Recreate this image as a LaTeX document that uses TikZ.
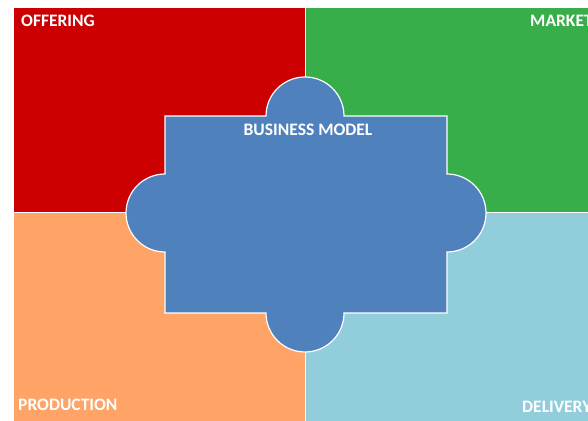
\documentclass[tikz,border=0pt]{standalone}
\usepackage{fontspec}
\setmainfont{Carlito}
\definecolor{offred}{HTML}{CC0000}
\definecolor{mktgreen}{HTML}{37AE4A}
\definecolor{prodorange}{HTML}{FFA366}
\definecolor{delblue}{HTML}{92CDDC}
\definecolor{bmblue}{HTML}{4F81BD}
\tikzset{
  quad/.style={draw=white, line width=0.8pt},
  lbl/.style={text=white, font=\bfseries\fontsize{17.5}{20}\selectfont, inner sep=0pt},
  puzzle/.style={fill=bmblue, draw=white, line width=1.2pt}
}
\begin{document}
\begin{tikzpicture}[x=1pt,y=1pt]
\useasboundingbox (0,0) rectangle (588,420);
\begin{scope}
\clip (0,0) rectangle (588,420);
\fill[white] (0,0) rectangle (588,420);
\path[quad, fill=offred] (13,208) rectangle (305,413);
\path[quad, fill=mktgreen] (305,208) rectangle (600,413);
\path[quad, fill=prodorange] (13,-5) rectangle (305,208);
\path[quad, fill=delblue] (305,-5) rectangle (600,208);
\path[puzzle] (165,304) -- (266,304) arc[start angle=180,end angle=0,radius=39]
  -- (447,304) -- (447,246) arc[start angle=90,end angle=-90,radius=39]
  -- (447,107) -- (344,107) arc[start angle=0,end angle=-180,radius=39]
  -- (165,107) -- (165,168) arc[start angle=270,end angle=90,radius=39] -- cycle;
\node[lbl, anchor=base west] (off) at (21,393) {OFFERING};
\node[lbl, anchor=base west] (mkt) at (530,393) {MARKET};
\node[lbl, anchor=base west] (prod) at (18,10) {PRODUCTION};
\node[lbl, anchor=base west] (del) at (522,8) {DELIVERY};
\node[lbl, anchor=base] (bm) at (308,284) {BUSINESS MODEL};
\end{scope}
\end{tikzpicture}
\end{document}
